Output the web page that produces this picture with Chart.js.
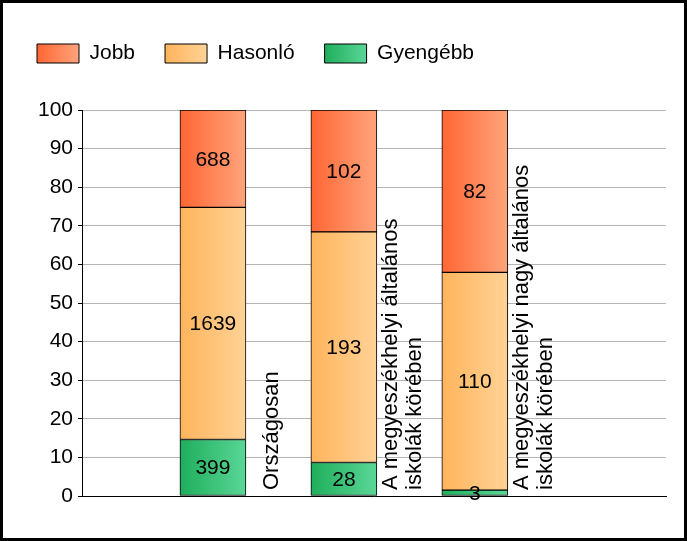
<!DOCTYPE html>
<html>
<head>
<meta charset="utf-8">
<script src="https://cdn.jsdelivr.net/npm/chart.js@4/dist/chart.umd.min.js"></script>
<style>
  body { margin: 0; background: #fff; }
  #wrap { width: 687px; height: 541px; border: 3px solid #000; box-sizing: border-box; }
  canvas { display: block; }
</style>
</head>
<body>
<div id="wrap"><canvas id="barChart" width="681" height="535"></canvas></div>
<script>
// categories (x positions on a linear axis so the plot keeps its empty right part)
const categories = [
  ["Országosan"],
  ["A megyeszékhelyi általános", "iskolák körében"],
  ["A megyeszékhelyi nagy általános", "iskolák körében"],
];
const xPos = [1, 2, 3];

// counts shown inside the bars
const weaker = [399, 28, 3];      // Gyengébb
const similar = [1639, 193, 110]; // Hasonló
const better = [688, 102, 82];    // Jobb

const yTicks = [0, 10, 20, 30, 40, 50, 60, 70, 80, 90, 100];

const palettes = {
  better: ["#ff6633", "#ffa47c"],
  similar: ["#ffb45c", "#ffd296"],
  weaker: ["#1fae5c", "#5ad697"],
};

const totals = weaker.map((v, i) => v + similar[i] + better[i]);
const pct = (arr) => arr.map((v, i) => ({ x: xPos[i], y: (v / totals[i]) * 100 }));

let ctx = document.getElementById("barChart").getContext("2d");
Chart.defaults.font.family = "'Liberation Sans', Arial, sans-serif";
Chart.defaults.font.size = 21;
Chart.defaults.color = "#000";

function hGradient(x0, x1, pal) {
  const g = ctx.createLinearGradient(x0, 0, x1, 0);
  g.addColorStop(0, pal[0]);
  g.addColorStop(1, pal[1]);
  return g;
}

function barFill(pal) {
  return (c) => {
    const chart = c.chart;
    if (!chart.chartArea || c.dataIndex === undefined) return pal[0];
    const cx = chart.scales.x.getPixelForValue(xPos[c.dataIndex]);
    return hGradient(cx - 33, cx + 33, pal);
  };
}

const rawValues = [weaker, similar, better];
const legendOrder = [2, 1, 0];
const legendPals = [palettes.better, palettes.similar, palettes.weaker];

// value labels in the middle of each segment
const valueLabels = {
  id: "valueLabels",
  afterDatasetsDraw(chart) {
    const c = chart.ctx;
    c.save();
    c.font = "21px 'Liberation Sans', Arial, sans-serif";
    c.fillStyle = "#000";
    c.textAlign = "center";
    c.textBaseline = "middle";
    chart.data.datasets.forEach((ds, di) => {
      chart.getDatasetMeta(di).data.forEach((bar, i) => {
        c.fillText(String(rawValues[di][i]), bar.x, (bar.y + bar.base) / 2 + 1);
      });
    });
    c.restore();
  },
};

// rotated category names to the right of each bar
const categoryLabels = {
  id: "categoryLabels",
  afterDraw(chart) {
    const c = chart.ctx;
    const xs = chart.scales.x;
    const bottom = chart.chartArea.bottom - 6;
    c.save();
    c.font = "22px 'Liberation Sans', Arial, sans-serif";
    c.fillStyle = "#000";
    c.textAlign = "left";
    c.textBaseline = "middle";
    categories.forEach((lines, i) => {
      const cx = xs.getPixelForValue(xPos[i]) + 59;
      c.save();
      c.translate(cx, bottom);
      c.rotate(-Math.PI / 2);
      lines.forEach((t, j) => {
        c.fillText(t, 0, (j - (lines.length - 1) / 2) * 24);
      });
      c.restore();
    });
    c.restore();
  },
};

// extra room between legend and plot, gradient legend boxes
const legendTweaks = {
  id: "legendTweaks",
  beforeInit(chart) {
    const fit = chart.legend.fit;
    chart.legend.fit = function () {
      fit.call(this);
      this.height += 36;
    };
  },
  beforeDraw(chart) {
    const lg = chart.legend;
    lg.legendItems.forEach((it, i) => {
      const hb = lg.legendHitBoxes[i];
      if (hb) it.fillStyle = hGradient(hb.left, hb.left + 42, legendPals[i]);
    });
  },
};

let barChart = new Chart(ctx, {
  type: "bar",
  data: {
    datasets: [
      {
        label: "Gyengébb",
        data: pct(weaker),
        backgroundColor: barFill(palettes.weaker),
      },
      {
        label: "Hasonló",
        data: pct(similar),
        backgroundColor: barFill(palettes.similar),
      },
      {
        label: "Jobb",
        data: pct(better),
        backgroundColor: barFill(palettes.better),
      },
    ].map((d) => ({
      ...d,
      borderColor: "#000",
      borderWidth: 1,
      borderSkipped: false,
      barThickness: 66,
    })),
  },
  options: {
    responsive: false,
    animation: false,
    layout: {
      padding: { top: 10, left: 4, right: 18, bottom: 42 },
    },
    scales: {
      x: {
        type: "linear",
        stacked: true,
        offset: false,
        min: 0,
        max: 4.46,
        ticks: { display: false },
        grid: { display: false, drawTicks: false },
        border: { display: true, color: "#000", width: 1 },
      },
      y: {
        stacked: true,
        min: 0,
        max: 100,
        afterBuildTicks: (scale) => {
          scale.ticks = yTicks.map((v) => ({ value: v }));
        },
        afterFit: (scale) => {
          scale.width = 75;
        },
        ticks: { padding: 5, color: "#000" },
        grid: { color: "#b4b4b4", tickColor: "#000", tickLength: 4 },
        border: { color: "#000", width: 1 },
      },
    },
    plugins: {
      tooltip: { enabled: false },
      legend: {
        position: "top",
        align: "start",
        labels: {
          boxWidth: 42,
          boxHeight: 19,
          padding: 30,
          color: "#000",
          font: { size: 21 },
          generateLabels(chart) {
            return legendOrder.map((di, i) => ({
              text: chart.data.datasets[di].label,
              fillStyle: legendPals[i][0],
              strokeStyle: "#000",
              lineWidth: 1,
              hidden: false,
              datasetIndex: di,
            }));
          },
        },
      },
    },
  },
  plugins: [valueLabels, categoryLabels, legendTweaks],
});
</script>
</body>
</html>
